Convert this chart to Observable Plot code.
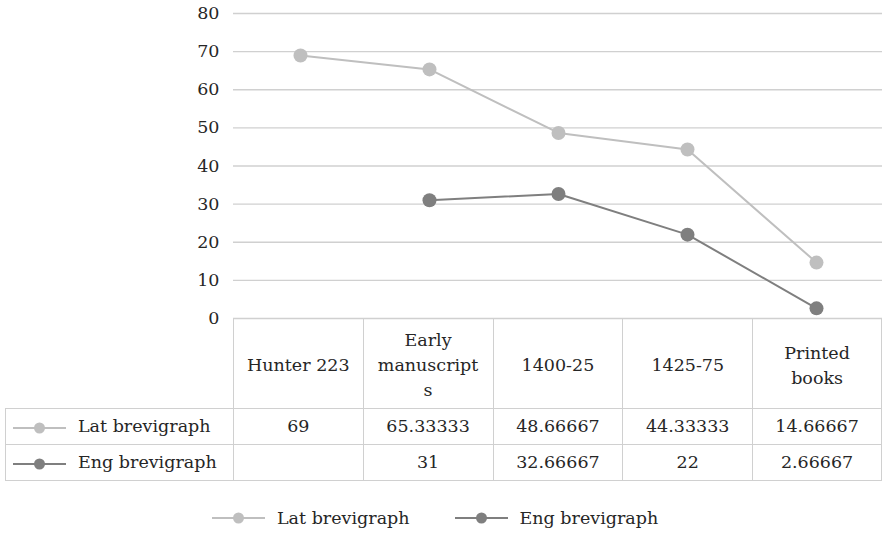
<!DOCTYPE html>
<html>
<head>
<meta charset="utf-8">
<script src="https://cdn.jsdelivr.net/npm/d3@7"></script>
<script src="https://cdn.jsdelivr.net/npm/@observablehq/plot@0.6"></script>
<style>
  body { margin: 0; background: #fff; }
  #chart { position: relative; width: 882px; height: 533px; font-family: "DejaVu Serif", serif; color: #262626; }
  #chart svg.plot { position: absolute; left: 0; top: 0; }
  table.data { position: absolute; left: 5px; top: 318px; border-collapse: collapse; table-layout: fixed; font-size: 17.5px; }
  table.data td { border: 1px solid #d0d0d0; text-align: center; padding: 0; white-space: pre-line; line-height: 25px; }
  table.data tr.head td { padding-top: 4px; }
  table.data tr.head td.blank { border: none; }
  table.data td.name { text-align: left; padding-left: 7px; white-space: nowrap; }
  table.data td.name svg { vertical-align: middle; margin-right: 12px; }
  .legend { position: absolute; left: 212px; top: 508px; display: flex; align-items: center; font-size: 17.5px; }
  .legend .item { display: flex; align-items: center; }
  .legend .item + .item { margin-left: 45px; }
  .legend svg { margin-right: 12px; }
</style>
</head>
<body>
<div id="chart"></div>
<script>
// Average share of brevigraphs by source group
const categories = ["Hunter 223", "Early manuscripts", "1400-25", "1425-75", "Printed books"];
const headerLines = [["Hunter 223"], ["Early", "manuscript", "s"], ["1400-25"], ["1425-75"], ["Printed", "books"]];
const seriesNames = ["Lat brevigraph", "Eng brevigraph"];
const latValues = [69, 65.33333, 48.66667, 44.33333, 14.66667];
const engValues = [null, 31, 32.66667, 22, 2.66667];
const seriesColors = ["#bfbfbf", "#7f7f7f"];
const yTicks = [0, 10, 20, 30, 40, 50, 60, 70, 80];

const seriesValues = [latValues, engValues];
const rows = seriesNames.flatMap((name, s) =>
  categories.map((category, i) => ({series: name, category, value: seriesValues[s][i]}))
);

const chart = document.getElementById("chart");

const plot = Plot.plot({
  width: 882,
  height: 320,
  marginLeft: 233,
  marginRight: 0,
  marginTop: 13,
  marginBottom: 2,
  style: {fontFamily: "DejaVu Serif, serif", fontSize: "17.5px", color: "#262626", background: "transparent", overflow: "visible"},
  x: {type: "point", domain: categories, padding: 0.5, axis: null},
  y: {domain: [0, 80], ticks: yTicks, tickSize: 0, tickPadding: 14, label: null},
  color: {domain: seriesNames, range: seriesColors},
  marks: [
    Plot.ruleY(yTicks, {stroke: "#d0d0d0", strokeWidth: 1.3}),
    Plot.line(rows, {x: "category", y: "value", z: "series", stroke: "series", strokeWidth: 2}),
    Plot.dot(rows, {x: "category", y: "value", fill: "series", r: 7, stroke: null})
  ]
});
plot.classList.add("plot");
chart.appendChild(plot);

// Small line-and-dot swatch for a series
function swatch(color) {
  return `<svg width="53" height="14" viewBox="0 0 53 14">` +
    `<line x1="0" y1="7" x2="53" y2="7" stroke="${color}" stroke-width="2"/>` +
    `<circle cx="26.5" cy="7" r="5.5" fill="${color}"/></svg>`;
}

// Data table under the plot
const colWidths = [228, 130, 130, 130, 130, 129];
let html = `<table class="data"><colgroup>${colWidths.map(w => `<col style="width:${w}px">`).join("")}</colgroup>`;
html += `<tr class="head" style="height:90px"><td class="blank"></td>` +
  headerLines.map(lines => `<td>${lines.join("\n")}</td>`).join("") + `</tr>`;
seriesNames.forEach((name, s) => {
  html += `<tr style="height:36px"><td class="name">${swatch(seriesColors[s])}${name}</td>` +
    seriesValues[s].map(v => `<td>${v == null ? "" : v}</td>`).join("") + `</tr>`;
});
html += `</table>`;

// Legend below the table
html += `<div class="legend">` +
  seriesNames.map((name, s) => `<div class="item">${swatch(seriesColors[s])}<span>${name}</span></div>`).join("") +
  `</div>`;
chart.insertAdjacentHTML("beforeend", html);
</script>
</body>
</html>
